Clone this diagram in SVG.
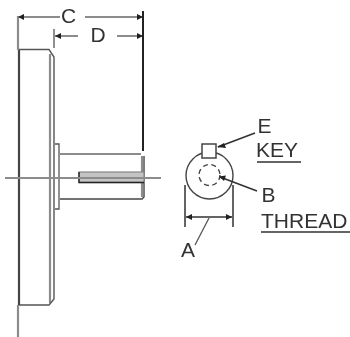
<svg xmlns="http://www.w3.org/2000/svg" width="350" height="337" viewBox="0 0 350 337">
<style>
.d{stroke:#333;fill:none;stroke-width:1.5}
.g{stroke:#8c8c8c;fill:none;stroke-width:2.2}
.t{font-family:"Liberation Sans",Arial,sans-serif;font-size:21px;fill:#333}
.a{fill:#222}
</style>
<defs><filter id="soft" x="0" y="0" width="100%" height="100%"><feGaussianBlur stdDeviation="0.45"/></filter></defs>
<rect width="350" height="337" fill="#fff"/>
<g filter="url(#soft)">
<g id="flange">
<path class="g" d="M50 54V303"/>
<path d="M19 49.500H49L54 57V299L49 305H19" stroke="#555" stroke-width="1.4" fill="none"/>
<path d="M19 50V305" stroke="#444" stroke-width="2.2" fill="none"/>
</g>
<g id="shaft">
<path d="M55 144H59V209H55" stroke="#555" stroke-width="1.3" fill="none"/>
<path class="g" d="M60 154H141"/>
<path d="M60 199H142L144 197V156" stroke="#444" stroke-width="1.4" fill="none"/>
<path class="g" d="M142 156V197"/>
<rect x="79" y="172" width="65" height="10.500" fill="#c4c4c4" stroke="#888" stroke-width="1.2"/>
<path d="M79 172V182.500H144" stroke="#222" stroke-width="1.4" fill="none"/>
</g>
<g id="end-view">
<circle cx="209.500" cy="175.500" r="23.500" fill="#fff" stroke="#444" stroke-width="1.4"/>
<circle cx="209.500" cy="175" r="10.500" fill="none" stroke="#444" stroke-width="1.4" stroke-dasharray="5 3.500"/>
<rect x="202" y="144" width="14" height="14" fill="#fff" stroke="#444" stroke-width="1.5"/>
</g>
<g id="connectors">
<path class="g" d="M18 16V50M18 305V337"/>
<path class="g" d="M18 17H60M85 17H143M55 36H78M117 36H143"/>
<path d="M143 11V151" stroke="#222" stroke-width="2" fill="none"/>
<path d="M54 29V48" stroke="#444" stroke-width="1.2" fill="none"/>
<polygon class="a" points="18,17 24,14 24,20"/>
<polygon class="a" points="143,17 137,14 137,20"/>
<polygon class="a" points="55,36 61,33 61,39"/>
<polygon class="a" points="143,36 137,33 137,39"/>
<path class="g" d="M5 178H161" stroke-width="1.600"/>
<path d="M218 147L255 133M220 177L257 191" stroke="#333" stroke-width="1.600" fill="none"/>
<polygon class="a" points="217,147 224,143 226,148"/>
<polygon class="a" points="219,176.500 226,175.500 224,181"/>
<path d="M185 185V227M233 185V227" stroke="#333" stroke-width="1.500" fill="none"/>
<path d="M186 217H232" stroke="#333" stroke-width="1.500" fill="none"/>
<polygon class="a" points="186,217 192,214 192,220"/>
<polygon class="a" points="232,217 226,214 226,220"/>
<path d="M209 218L195 245" stroke="#555" stroke-width="1.300" fill="none"/>
<path d="M257 162H301M261 232H350" stroke="#333" stroke-width="1.600" fill="none"/>
</g>
<g id="labels">
<text class="t" x="61" y="23">C</text>
<text class="t" x="90.500" y="41.500">D</text>
<text class="t" x="257.500" y="133">E</text>
<text class="t" x="256" y="157">KEY</text>
<text class="t" x="261.500" y="202">B</text>
<text class="t" x="261" y="228">THREAD</text>
<text class="t" x="181" y="257">A</text>
</g>
</g>
</svg>
